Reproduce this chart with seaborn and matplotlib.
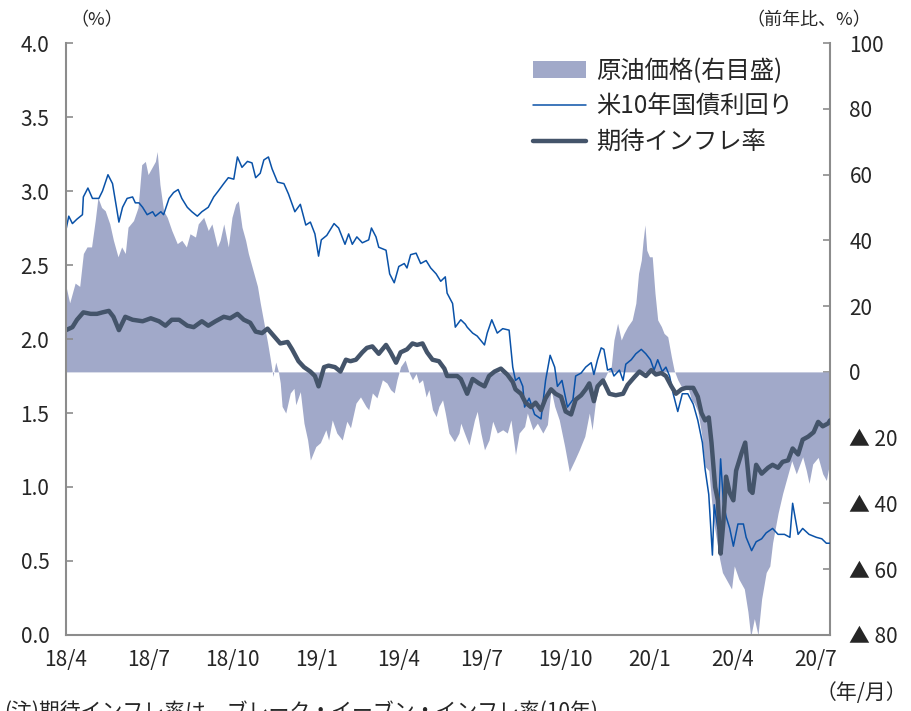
import matplotlib
matplotlib.use("Agg")
import matplotlib.pyplot as plt
import matplotlib.dates as mdates
import seaborn as sb
import pandas as pd
import numpy as np

START = pd.Timestamp("2018-04-01")

# US 10y treasury yield (%), observation day counted from 2018-04-01
yld_days = [0, 3, 7, 12, 18, 19, 24, 29, 36, 40, 46, 51, 54, 58, 62, 67, 73, 76, 80, 84,
            89, 95, 98, 104, 107, 113, 118, 123, 127, 133, 138, 144, 149, 156, 162, 167, 173, 178, 184, 188,
            193, 199, 204, 208, 213, 217, 222, 226, 232, 239, 244, 251, 257, 263, 268, 273, 277, 280, 286, 292,
            294, 299, 306, 310, 314, 319, 325, 332, 335, 340, 343, 351, 355, 360, 365, 371, 374, 378, 384, 389,
            395, 400, 406, 411, 416, 418, 424, 427, 433, 438, 440, 446, 451, 459, 462, 467, 473, 479, 486, 490,
            493, 497, 501, 503, 508, 514, 521, 526, 531, 536, 539, 544, 550, 556, 559, 565, 570, 576, 579, 583,
            587, 590, 594, 598, 601, 607, 611, 614, 620, 625, 631, 636, 641, 645, 649, 654, 658, 662, 666, 671,
            676, 682, 688, 693, 698, 701, 705, 709, 711, 715, 718, 721, 724, 728, 732, 737, 743, 746, 752, 757,
            763, 768, 775, 781, 788, 794, 797, 803, 808, 815, 823, 829, 834, 838]
yld_vals = [2.74, 2.83, 2.78, 2.81, 2.84, 2.96, 3.02, 2.95, 2.95, 3.00, 3.11, 3.05, 2.94, 2.79, 2.89, 2.95, 2.96, 2.92, 2.92, 2.89,
            2.84, 2.86, 2.83, 2.86, 2.84, 2.95, 2.99, 3.01, 2.95, 2.89, 2.86, 2.83, 2.86, 2.89, 2.96, 3.00, 3.05, 3.09, 3.08, 3.23,
            3.16, 3.20, 3.19, 3.09, 3.12, 3.21, 3.23, 3.15, 3.06, 3.05, 2.98, 2.86, 2.91, 2.77, 2.79, 2.71, 2.56, 2.67, 2.70, 2.76,
            2.78, 2.75, 2.64, 2.71, 2.64, 2.69, 2.65, 2.67, 2.75, 2.69, 2.62, 2.60, 2.44, 2.38, 2.49, 2.51, 2.48, 2.57, 2.58, 2.51,
            2.53, 2.48, 2.44, 2.39, 2.42, 2.31, 2.24, 2.08, 2.13, 2.10, 2.08, 2.04, 2.02, 1.96, 2.04, 2.13, 2.04, 2.07, 2.06, 1.81,
            1.72, 1.74, 1.68, 1.54, 1.60, 1.49, 1.46, 1.72, 1.89, 1.81, 1.68, 1.72, 1.54, 1.59, 1.75, 1.77, 1.81, 1.84, 1.76, 1.86,
            1.94, 1.93, 1.79, 1.80, 1.75, 1.79, 1.72, 1.83, 1.86, 1.90, 1.93, 1.90, 1.86, 1.79, 1.86, 1.78, 1.81, 1.75, 1.63, 1.51,
            1.63, 1.63, 1.56, 1.45, 1.30, 1.12, 0.95, 0.54, 0.88, 0.72, 1.19, 0.90, 0.80, 0.72, 0.60, 0.75, 0.75, 0.66, 0.57, 0.63,
            0.65, 0.69, 0.72, 0.68, 0.68, 0.66, 0.89, 0.68, 0.72, 0.68, 0.66, 0.65, 0.62, 0.62]

# breakeven inflation rate (10y, %)
bei_days = [0, 7, 12, 19, 27, 34, 40, 47, 52, 58, 65, 73, 84, 93, 102, 109, 116, 124, 133, 140,
            149, 156, 164, 173, 180, 188, 195, 202, 208, 215, 221, 228, 235, 243, 248, 255, 261, 268, 273, 277,
            283, 288, 295, 301, 307, 312, 318, 325, 330, 336, 343, 351, 356, 362, 367, 374, 380, 385, 391, 396,
            402, 409, 415, 418, 424, 429, 433, 440, 446, 453, 459, 464, 470, 477, 484, 490, 493, 499, 504, 510,
            515, 521, 526, 532, 537, 543, 548, 554, 559, 565, 570, 574, 579, 583, 589, 596, 603, 611, 616, 623,
            629, 636, 642, 647, 653, 658, 664, 669, 675, 680, 688, 693, 697, 701, 705, 708, 712, 715, 718, 721,
            724, 728, 732, 735, 741, 745, 750, 753, 757, 763, 770, 775, 781, 786, 792, 797, 803, 808, 814, 820,
            825, 830, 836, 838]
bei_vals = [2.06, 2.08, 2.13, 2.18, 2.17, 2.17, 2.18, 2.19, 2.15, 2.06, 2.15, 2.13, 2.12, 2.14, 2.12, 2.09, 2.13, 2.13, 2.09, 2.08,
            2.12, 2.09, 2.12, 2.15, 2.14, 2.17, 2.13, 2.11, 2.05, 2.04, 2.07, 2.02, 1.97, 1.98, 1.93, 1.85, 1.81, 1.78, 1.75, 1.68,
            1.81, 1.82, 1.81, 1.78, 1.86, 1.85, 1.86, 1.91, 1.94, 1.95, 1.90, 1.96, 1.91, 1.84, 1.91, 1.93, 1.97, 1.96, 1.97, 1.91,
            1.86, 1.85, 1.80, 1.75, 1.75, 1.75, 1.73, 1.63, 1.73, 1.70, 1.68, 1.75, 1.78, 1.80, 1.76, 1.71, 1.66, 1.63, 1.57, 1.54,
            1.57, 1.52, 1.60, 1.66, 1.63, 1.61, 1.51, 1.49, 1.59, 1.62, 1.66, 1.70, 1.58, 1.68, 1.72, 1.63, 1.62, 1.63, 1.69, 1.74,
            1.78, 1.75, 1.79, 1.76, 1.77, 1.75, 1.68, 1.63, 1.66, 1.67, 1.67, 1.61, 1.50, 1.45, 1.47, 1.30, 1.00, 0.91, 0.55, 0.76,
            1.07, 0.96, 0.91, 1.11, 1.23, 1.30, 0.98, 0.96, 1.15, 1.09, 1.13, 1.15, 1.13, 1.17, 1.18, 1.26, 1.22, 1.32, 1.34, 1.37,
            1.44, 1.41, 1.43, 1.45]

# crude oil price, year-on-year change (%)
oil_days = [0, 4, 10, 15, 19, 23, 28, 32, 35, 39, 43, 48, 52, 57, 61, 65, 68, 74, 79, 83,
            87, 90, 94, 98, 100, 103, 107, 111, 116, 122, 127, 132, 136, 142, 145, 151, 156, 160, 166, 169,
            173, 178, 182, 186, 189, 193, 197, 200, 206, 210, 213, 217, 221, 224, 227, 230, 233, 235, 237, 241,
            246, 250, 252, 257, 261, 265, 268, 274, 279, 285, 288, 292, 297, 303, 308, 312, 318, 323, 329, 332,
            336, 341, 347, 352, 356, 360, 363, 367, 372, 376, 380, 384, 387, 391, 395, 398, 402, 406, 409, 413,
            416, 420, 426, 431, 433, 437, 442, 448, 451, 455, 459, 464, 468, 473, 479, 484, 488, 493, 497, 503,
            506, 512, 517, 523, 528, 532, 536, 541, 547, 552, 558, 563, 569, 574, 577, 581, 585, 590, 594, 598,
            601, 605, 609, 612, 616, 621, 625, 628, 631, 633, 635, 637, 640, 643, 646, 649, 653, 656, 660, 664,
            667, 671, 675, 682, 686, 689, 693, 697, 701, 705, 710, 717, 720, 724, 730, 733, 738, 744, 748, 751,
            755, 759, 763, 768, 772, 775, 781, 786, 792, 796, 801, 808, 812, 815, 819, 825, 830, 834, 838]
oil_vals = [26, 21, 27, 26, 36, 38, 38, 46, 53, 50, 49, 45, 40, 35, 38, 36, 44, 46, 50, 63,
            64, 60, 62, 64, 67, 57, 49, 47, 43, 39, 40, 38, 42, 41, 45, 47, 43, 45, 38, 40,
            45, 38, 47, 51, 52, 44, 40, 36, 30, 26, 21, 15, 9, 4, -1.4, 3, 0, -3.4, -10.5, -12.5,
            -6.4, -5, -10, -6, -15.6, -20.7, -26.8, -22.7, -21.5, -17.6, -20.7, -14.6, -18.6, -20.7, -15, -17, -9.5, -7.6, -10.5, -11.5,
            -6.4, -7.9, -2.4, -3.4, -5.4, -6.4, -2.4, 1.6, 3.6, 0, -2.4, -0.5, -3.4, -2.4, -7.6, -5.4, -11.5, -13.6, -10.5, -8.5,
            -12.5, -18.6, -21.2, -18.6, -15.6, -18.6, -22.2, -14.6, -12, -18.6, -23.7, -20.7, -15, -18.6, -17.6, -18.6, -14.6, -25.2, -18.6, -16.6,
            -12.5, -17.6, -15.6, -18.6, -16, -5.4, -10.5, -14.6, -22.7, -30.3, -26.8, -23.7, -19.6, -12.5, -17.6, -8.5, -4.4, -2.4, 0, 1.6,
            9.7, 14.8, 9.7, 11.7, 13.8, 15.8, 20.9, 30, 34, 40, 44.7, 37, 35, 35, 24, 15.8, 13.8, 11.7, 10.7, 4.6,
            0.5, -2.4, -4.5, -4.5, -8.5, -9.5, -12, -18.6, -28.8, -30, -45, -57, -61, -63, -66, -59, -63, -66, -73, -80.5,
            -75, -80, -69, -61, -59, -52, -43, -37, -31, -27, -31, -25.8, -30, -33.9, -28, -26, -31, -33, -27]

tick_dates = ["2018-04-01", "2018-07-01", "2018-10-01", "2019-01-01", "2019-04-01",
              "2019-07-01", "2019-10-01", "2020-01-01", "2020-04-01", "2020-07-01"]
tick_labels = ["18/4", "18/7", "18/10", "19/1", "19/4", "19/7", "19/10", "20/1", "20/4", "20/7"]

left_ticks = [0.0, 0.5, 1.0, 1.5, 2.0, 2.5, 3.0, 3.5, 4.0]
right_ticks = [-80, -60, -40, -20, 0, 20, 40, 60, 80, 100]
right_labels = ["▲ 80", "▲ 60", "▲ 40", "▲ 20", "0", "20", "40", "60", "80", "100"]


def toDates(days):
    return START + pd.to_timedelta(days, unit="D")


yld_df = pd.DataFrame({"date": toDates(yld_days), "value": yld_vals})
bei_df = pd.DataFrame({"date": toDates(bei_days), "value": bei_vals})
oil_df = pd.DataFrame({"date": toDates(oil_days), "value": oil_vals})

sb.set_style("white")
plt.rcParams['font.family'] = ['Noto Sans CJK JP', 'DejaVu Sans']

GRAY = "#8c8c8c"
FILL = "#a1a9c9"

fig = plt.figure(figsize=(9.12, 7.11), dpi=100)
ax1 = fig.add_axes([0.0724, 0.1069, 0.8377, 0.8326])
ax2 = ax1.twinx()

# oil on the right axis, drawn behind the rate lines
fillPoly = ax2.fill_between(oil_df["date"], 0, oil_df["value"], color=FILL, linewidth=0,
                            label="原油価格(右目盛)")
ax2.set_ylim(-80, 100)
ax2.set_yticks(right_ticks)
ax2.set_yticklabels(right_labels)

sb.lineplot(data=yld_df, x="date", y="value", ax=ax1, color="#0a52a8", linewidth=1.1,
            label="米10年国債利回り")
sb.lineplot(data=bei_df, x="date", y="value", ax=ax1, color="#44546a", linewidth=3.2,
            label="期待インフレ率")

ax1.set_zorder(ax2.get_zorder() + 1)
ax1.patch.set_visible(False)

ax1.set_ylim(0, 4.0)
ax1.set_yticks(left_ticks)
ax1.set_yticklabels([f"{v:.1f}" for v in left_ticks])
ax1.set_xlim(pd.Timestamp("2018-04-01"), pd.Timestamp("2020-07-17"))
ax1.set_xticks(pd.to_datetime(tick_dates))
ax1.set_xticklabels(tick_labels)
ax1.set_xlabel("")
ax1.set_ylabel("")

for ax in (ax1, ax2):
    ax.spines["top"].set_visible(False)
    for side in ("left", "right", "bottom"):
        ax.spines[side].set_color(GRAY)
        ax.spines[side].set_linewidth(1.5)
ax1.spines["right"].set_visible(False)
ax2.spines["left"].set_visible(False)
ax2.spines["bottom"].set_visible(False)

ax1.tick_params(axis="y", direction="in", length=5, width=1.2, color=GRAY, labelsize=15, pad=12)
ax1.tick_params(axis="x", direction="in", length=5, width=1.2, color=GRAY, labelsize=15, pad=10)
ax2.tick_params(axis="y", direction="in", length=5, width=1.2, color=GRAY, labelsize=15, pad=14)

handles = [fillPoly] + ax1.get_lines()[:2]
labels = ["原油価格(右目盛)", "米10年国債利回り", "期待インフレ率"]
ax1.legend(handles, labels, loc="upper left", bbox_to_anchor=(0.582, 1.012), frameon=False,
           fontsize=17.5, handlelength=2.2, handletextpad=0.4, labelspacing=0.4)

fig.text(0.077, 0.972, "（%）", fontsize=13, ha="left", va="center")
fig.text(0.955, 0.972, "（前年比、%）", fontsize=13, ha="right", va="center")
fig.text(0.995, 0.025, "（年/月）", fontsize=15, ha="right", va="center")
fig.text(0.005, -0.016, "(注)期待インフレ率は、ブレーク・イーブン・インフレ率(10年)", fontsize=15,
         ha="left", va="bottom")

fig.savefig("out.png", dpi=100)
